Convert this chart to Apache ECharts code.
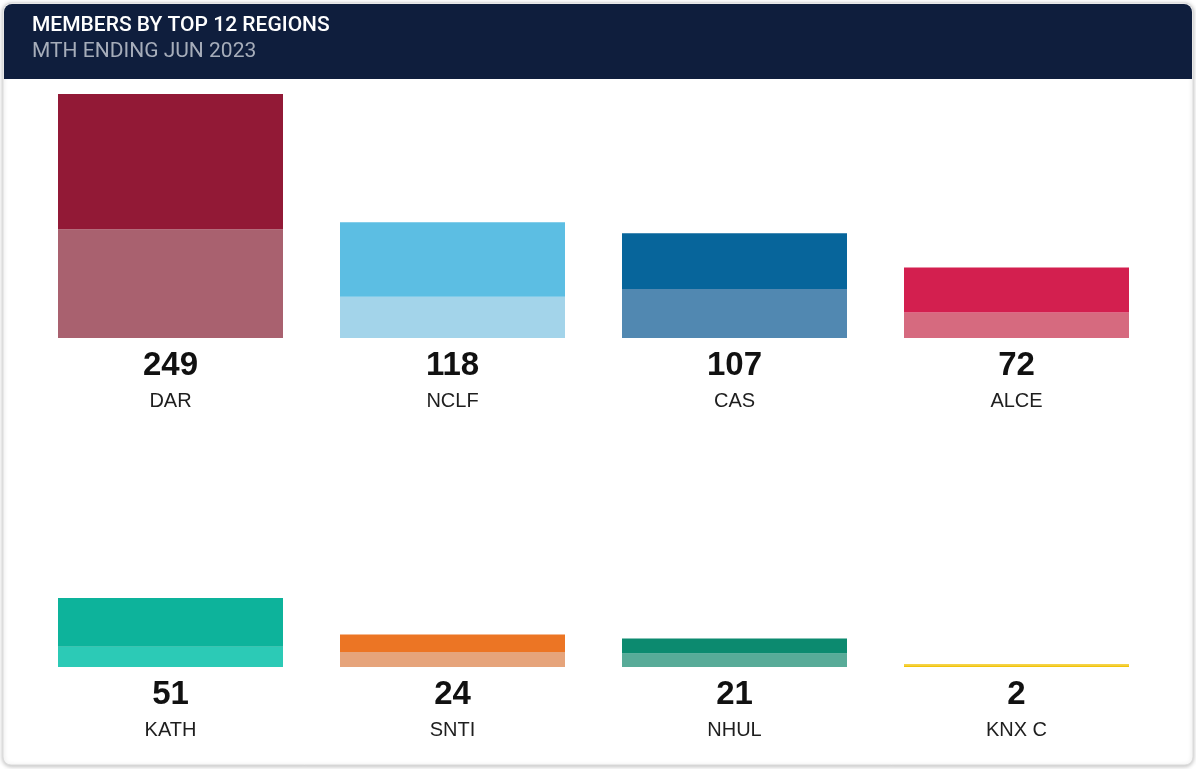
<!DOCTYPE html>
<html>
<head>
<meta charset="utf-8">
<title>Members by top 12 regions</title>
<script src="https://cdn.jsdelivr.net/npm/echarts@6/dist/echarts.min.js"></script>
<style>
    html, body { margin: 0; padding: 0; background: #ffffff; }
    #chart { width: 1196px; height: 769px; }
</style>
</head>
<body>
<div id="chart"></div>
<script>
// row 1 / row 2 regions
const regionsTop = ['DAR', 'NCLF', 'CAS', 'ALCE']
const totalsTop = [249, 118, 107, 72]
const upperTop = [138, 76, 57, 46]   // darker upper part
const lowerTop = [111, 42, 50, 26]   // lighter lower part

const regionsBottom = ['KATH', 'SNTI', 'NHUL', 'KNX C']
const totalsBottom = [51, 24, 21, 2]
const upperBottom = [36, 13, 11, 1]
const lowerBottom = [15, 11, 10, 1]

const darkTop = ['#921936', '#5cbee3', '#07659b', '#d31f4f']
const lightTop = ['#a9616f', '#a3d4ea', '#5188b1', '#d66a7f']
const darkBottom = ['#0db39b', '#ec7524', '#0c8a6f', '#f2c40a']
const lightBottom = ['#2ccab6', '#e6a47b', '#58ab98', '#f2c40a']

const chart = echarts.init(document.getElementById('chart'))

const items = (vals, colors) => vals.map((v, i) => ({ value: v, itemStyle: { color: colors[i] } }))

const xAxisFor = (idx, names, totals) => ({
    type: 'category',
    gridIndex: idx,
    data: names,
    axisLine: { show: false },
    axisTick: { show: false },
    axisLabel: {
        interval: 0,
        margin: 8,
        formatter: (name, i) => '{v|' + totals[i] + '}\n{n|' + name + '}',
        rich: {
            v: { fontFamily: 'Liberation Sans, Arial', fontSize: 33, fontWeight: 'bold', color: '#111111', lineHeight: 40 },
            n: { fontFamily: 'Liberation Sans, Arial', fontSize: 20, color: '#1e1e1e', lineHeight: 30 }
        }
    }
})

const option = {
    animation: false,
    backgroundColor: '#ffffff',
    title: {
        text: 'MEMBERS BY TOP 12 REGIONS',
        subtext: 'MTH ENDING JUN 2023',
        left: 32,
        top: 15,
        itemGap: 4,
        padding: 0,
        textStyle: { fontFamily: 'Roboto', fontSize: 21, fontWeight: 500, color: '#ffffff', lineHeight: 22 },
        subtextStyle: { fontFamily: 'Roboto', fontSize: 21, color: '#a6adba', lineHeight: 22 }
    },
    graphic: [
        {
            type: 'rect', z: -10, silent: true,
            shape: { x: 3, y: 3, width: 1190, height: 762, r: 8 },
            style: { fill: '#ffffff', stroke: '#dcdcdc', lineWidth: 1, shadowBlur: 4, shadowColor: 'rgba(0,0,0,0.25)', shadowOffsetY: 1 }
        },
        {
            type: 'rect', z: -5, silent: true,
            shape: { x: 4, y: 4, width: 1188, height: 75, r: [8, 8, 0, 0] },
            style: { fill: '#0f1e3d' }
        }
    ],
    grid: [
        { left: 29.5, right: 38.5, top: 94, height: 244 },
        { left: 29.5, right: 38.5, top: 598, height: 69 }
    ],
    xAxis: [
        xAxisFor(0, regionsTop, totalsTop),
        xAxisFor(1, regionsBottom, totalsBottom)
    ],
    yAxis: [
        { type: 'value', gridIndex: 0, min: 0, max: 249, show: false },
        { type: 'value', gridIndex: 1, min: 0, max: 51, show: false }
    ],
    series: [
        { type: 'bar', name: 'lower', xAxisIndex: 0, yAxisIndex: 0, stack: 'r1', barWidth: 225, data: items(lowerTop, lightTop) },
        { type: 'bar', name: 'upper', xAxisIndex: 0, yAxisIndex: 0, stack: 'r1', barWidth: 225, data: items(upperTop, darkTop) },
        { type: 'bar', name: 'lower', xAxisIndex: 1, yAxisIndex: 1, stack: 'r2', barWidth: 225, data: items(lowerBottom, lightBottom) },
        { type: 'bar', name: 'upper', xAxisIndex: 1, yAxisIndex: 1, stack: 'r2', barWidth: 225, data: items(upperBottom, darkBottom) }
    ]
}

chart.setOption(option)
</script>
</body>
</html>
